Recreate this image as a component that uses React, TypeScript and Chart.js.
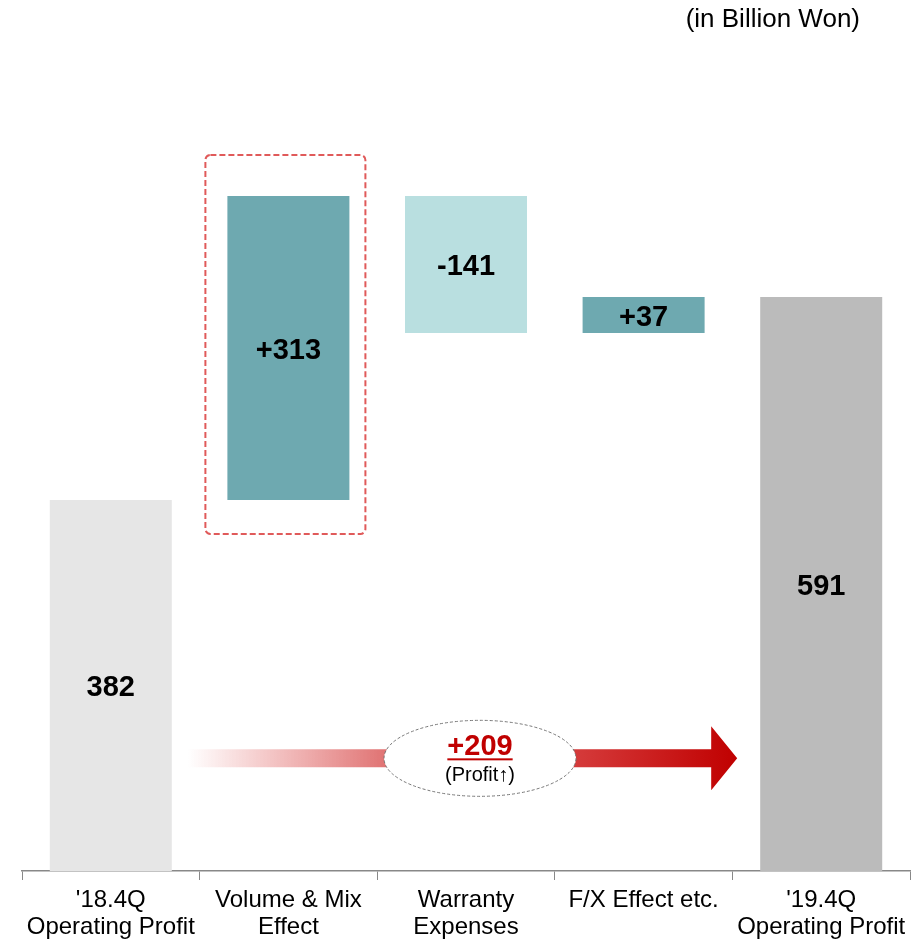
import React, { useEffect, useRef } from "react";
import { Chart, registerables } from "chart.js";

Chart.register(...registerables);

const categories: string[][] = [
  ["'18.4Q", "Operating Profit"],
  ["Volume & Mix", "Effect"],
  ["Warranty", "Expenses"],
  ["F/X Effect etc."],
  ["'19.4Q", "Operating Profit"],
];
const startValue = 382;
const deltas = [313, -141, 37];
const endValue = 591;
const totalChange = 209;
const barColors = ["#e6e6e6", "#6ea9b0", "#b9dfe0", "#6ea9b0", "#bbbbbb"];
const unitLabel = "(in Billion Won)";
const changeCaption = "(Profit\u2191)";

const FONT = "'Liberation Sans', Arial, sans-serif";

function buildRanges(): [number, number][] {
  const out: [number, number][] = [[0, startValue]];
  let cur = startValue;
  for (const d of deltas) {
    out.push([cur, cur + d]);
    cur += d;
  }
  out.push([0, endValue]);
  return out;
}

function buildLabels(): string[] {
  return [
    String(startValue),
    ...deltas.map((d) => (d > 0 ? "+" + d : String(d))),
    String(endValue),
  ];
}

const overlayPlugin = {
  id: "overlay",
  afterDatasetsDraw(chart: any) {
    const ctx = chart.ctx as CanvasRenderingContext2D;
    const ys = chart.scales.y;
    const meta = chart.getDatasetMeta(0);
    const labels = buildLabels();
    const ranges = buildRanges();

    // bar value labels
    ctx.save();
    ctx.fillStyle = "#000";
    ctx.font = `bold 29px ${FONT}`;
    ctx.textAlign = "center";
    ctx.textBaseline = "middle";
    meta.data.forEach((el: any, i: number) => {
      const r = ranges[i];
      const yc = (ys.getPixelForValue(r[0]) + ys.getPixelForValue(r[1])) / 2;
      ctx.fillText(labels[i], el.x, yc + 3);
    });
    ctx.restore();

    // dashed highlight box around Volume & Mix bar
    const b = meta.data[1];
    const half = b.width / 2;
    const bx0 = b.x - half - 22;
    const bx1 = b.x + half + 16;
    const by0 = ys.getPixelForValue(ranges[1][1]) - 41;
    const by1 = ys.getPixelForValue(ranges[1][0]) + 34;
    ctx.save();
    ctx.strokeStyle = "#e05a5a";
    ctx.lineWidth = 2;
    ctx.setLineDash([6, 3]);
    ctx.beginPath();
    (ctx as any).roundRect(bx0, by0, bx1 - bx0, by1 - by0, 5);
    ctx.stroke();
    ctx.restore();

    // arrow
    const first = meta.data[0];
    const last = meta.data[4];
    const ax0 = first.x + first.width / 2 + 16;
    const tip = last.x - last.width / 2 - 23;
    const ay = ys.getPixelForValue(116);
    const shaftH = 18;
    const headL = 26;
    const headH = 64;
    const grad = ctx.createLinearGradient(ax0, 0, tip, 0);
    grad.addColorStop(0, "rgba(230,120,120,0)");
    grad.addColorStop(0.36, "#e07373");
    grad.addColorStop(0.72, "#d43838");
    grad.addColorStop(1, "#c00000");
    ctx.save();
    ctx.fillStyle = grad;
    ctx.beginPath();
    ctx.moveTo(ax0, ay - shaftH / 2);
    ctx.lineTo(tip - headL, ay - shaftH / 2);
    ctx.lineTo(tip - headL, ay - headH / 2);
    ctx.lineTo(tip, ay);
    ctx.lineTo(tip - headL, ay + headH / 2);
    ctx.lineTo(tip - headL, ay + shaftH / 2);
    ctx.lineTo(ax0, ay + shaftH / 2);
    ctx.closePath();
    ctx.fill();
    ctx.restore();

    // ellipse with total change
    const ex = meta.data[2].x + 14;
    ctx.save();
    ctx.beginPath();
    ctx.ellipse(ex, ay, 96, 38, 0, 0, Math.PI * 2);
    ctx.fillStyle = "#fff";
    ctx.fill();
    ctx.strokeStyle = "#777";
    ctx.lineWidth = 1;
    ctx.setLineDash([3, 2]);
    ctx.stroke();
    ctx.setLineDash([]);
    ctx.textAlign = "center";
    ctx.textBaseline = "alphabetic";
    ctx.fillStyle = "#c00000";
    ctx.font = `bold 29px ${FONT}`;
    const t = "+" + totalChange;
    ctx.fillText(t, ex, ay - 3);
    const tw = ctx.measureText(t).width;
    ctx.fillRect(ex - tw / 2, ay, tw, 2);
    ctx.fillStyle = "#000";
    ctx.font = `20px ${FONT}`;
    ctx.fillText(changeCaption, ex, ay + 23);
    ctx.restore();

    // unit label
    ctx.save();
    ctx.fillStyle = "#000";
    ctx.font = `26px ${FONT}`;
    ctx.textAlign = "right";
    ctx.textBaseline = "middle";
    ctx.fillText(unitLabel, 860, 20);
    ctx.restore();
  },
};

export default function App() {
  const ref = useRef<HTMLCanvasElement | null>(null);
  useEffect(() => {
    if (!ref.current) return;
    const chart = new Chart(ref.current, {
      type: "bar",
      data: {
        labels: categories,
        datasets: [
          {
            data: buildRanges() as any,
            backgroundColor: barColors,
            borderWidth: 0,
            categoryPercentage: 1,
            barPercentage: 0.687,
          },
        ],
      },
      options: {
        animation: false,
        responsive: false,
        maintainAspectRatio: false,
        layout: { padding: { left: 22, right: 8, top: 94, bottom: 0 } },
        plugins: {
          legend: { display: false },
          tooltip: { enabled: false },
          title: { display: false },
        },
        scales: {
          x: {
            grid: {
              display: true,
              drawOnChartArea: false,
              drawTicks: true,
              tickLength: 9,
              color: "#888",
              offset: true,
            },
            border: { display: true, color: "#888", width: 1.5 },
            ticks: {
              color: "#000",
              font: { family: FONT, size: 24, lineHeight: 1.13 },
              padding: 7,
              maxRotation: 0,
              autoSkip: false,
            },
            afterFit: (scale: any) => {
              scale.height = 68;
            },
          },
          y: {
            display: false,
            min: 0,
            max: 800,
          },
        },
      },
      plugins: [overlayPlugin],
    });
    return () => chart.destroy();
  }, []);
  return (
    <div style={{ position: "absolute", left: 0, top: 0, width: 918, height: 939 }}>
      <canvas ref={ref} width={918} height={939} style={{ display: "block" }} />
    </div>
  );
}
